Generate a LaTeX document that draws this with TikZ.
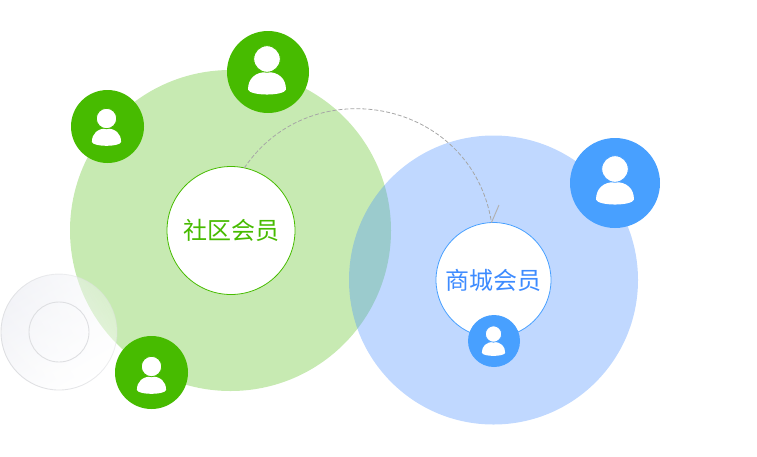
\documentclass[tikz,border=0pt]{standalone}
\usepackage{fontspec}
\usepackage{xcolor}
\newfontfamily\cjk{Noto Sans CJK SC}
\usetikzlibrary{fadings, shapes, arrows.meta, positioning}

\definecolor{clubgreen}{HTML}{47BB00}
\definecolor{shopblue}{HTML}{48A0FF}
\definecolor{shopzonefill}{HTML}{4A90FF}
\definecolor{shoptext}{HTML}{3D8BFF}
\definecolor{glassfill}{HTML}{EFF0F5}
\definecolor{glassline}{HTML}{DEDFE2}
\tikzfading[name=glassfade, left color=transparent!0, right color=transparent!60]

\tikzset{
  pics/person/.style={code={
    \fill[white] (-14.6,23.5) .. controls (-14.6,15) and (-9,10) .. (0,10)
      .. controls (9,10) and (14.6,15) .. (14.6,23.5)
      .. controls (13,28.6) and (-13,28.6) .. cycle;
    \fill[white, draw=#1, line width=0.8pt] (0,0) circle (10.2);
  }}
}

\begin{document}
\begin{tikzpicture}[
    x=1pt, y=-1pt,
    every node/.style={circle, inner sep=0pt, outer sep=0pt, align=center},
    clubzonestyle/.style={fill=clubgreen, fill opacity=0.3},
    shopzonestyle/.style={fill=shopzonefill, fill opacity=0.35},
    hub/.style={fill=white, draw=#1, line width=0.8pt, text=#1, font=\cjk\fontsize{24}{28}\selectfont},
    badge/.style={fill=#1},
    glass/.style={draw=glassline, line width=0.9pt},
    link/.style={draw=black!35, line width=0.8pt}
  ]
  \useasboundingbox (0,0) rectangle (757,456);

  \node[clubzonestyle, minimum size=321pt] (clubzone) at (230.5,230.5) {};
  \node[shopzonestyle, minimum size=289pt] (shopzone) at (493.5,280) {};

  \node[glass, minimum size=116pt, left color=glassfill, right color=white, shading angle=30, path fading=glassfade, fading angle=30] (glassouter) at (59,332) {};
  \node[glass, minimum size=60pt] (glassinner) at (glassouter) {};

  \node[hub=clubgreen, minimum size=128pt] (club) at (231,230.5) {社区会员};
  \node[hub=shopblue, text=shoptext, minimum size=115pt] (shop) at (493.5,280) {商城会员};

  \coordinate (barbend) at (499,205);
  \draw[link, dash pattern=on 4pt off 2pt] (club.78) .. controls (312,68) and (472,100) .. (shop.92);
  \draw[draw=black!30, line width=1pt] (shop.92) -- (barbend);

  \node[badge=clubgreen, minimum size=82pt] (usertop) at (268,72) {};
  \node[badge=clubgreen, minimum size=73pt] (userleft) at (107.5,126.5) {};
  \node[badge=clubgreen, minimum size=73pt] (userlow) at (151.5,372.5) {};
  \node[badge=shopblue, minimum size=90pt] (userbig) at (615,183) {};
  \node[badge=shopblue, minimum size=52pt] (usersmall) at (494,341) {};

  \pic[scale=1.3] at ([xshift=-1pt, yshift=13pt]usertop.center) {person=clubgreen};
  \pic at ([xshift=-1pt, yshift=8pt]userleft.center) {person=clubgreen};
  \pic at ([yshift=6pt]userlow.center) {person=clubgreen};
  \pic[scale=1.3] at ([yshift=14pt]userbig.center) {person=shopblue};
  \pic[scale=0.8] at ([xshift=-0.5pt, yshift=7pt]usersmall.center) {person=shopblue};
\end{tikzpicture}
\end{document}
